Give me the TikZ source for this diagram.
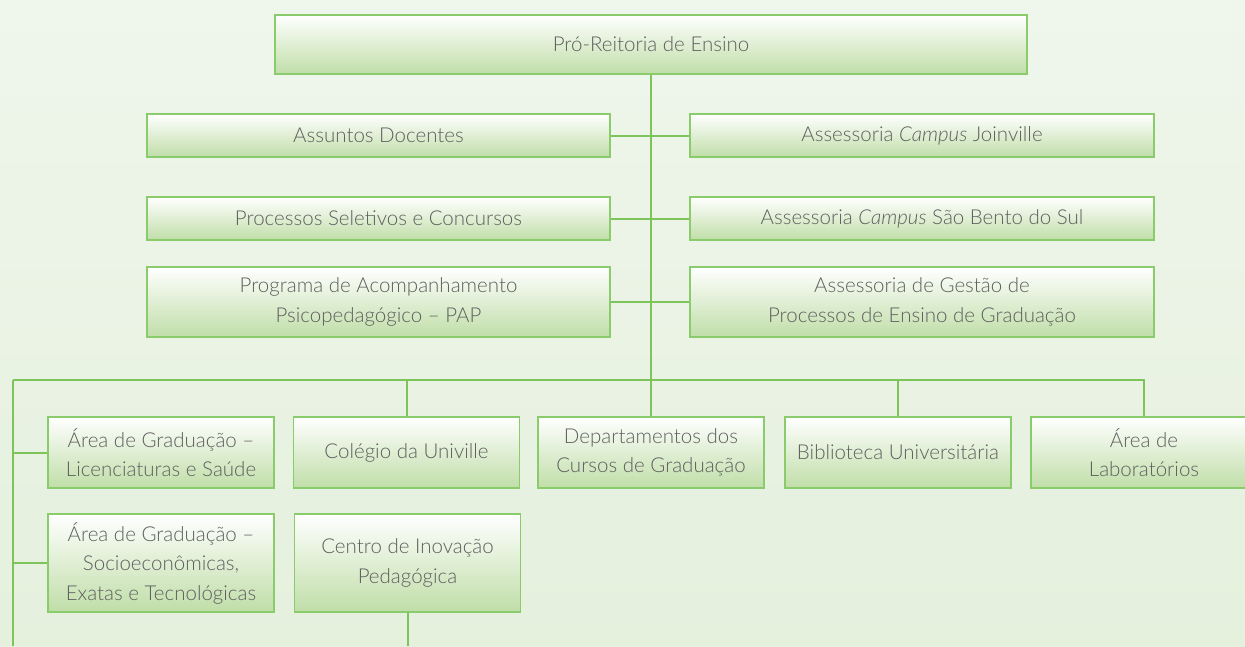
\documentclass[tikz,border=0pt]{standalone}
\usepackage{fontspec}
\IfFontExistsTF{Lato Light}{\setmainfont{Lato Light}[ItalicFont={Lato Light Italic}]}{\setmainfont{Lato}}
\definecolor{bgtop}{HTML}{EFF6EC}
\definecolor{bgbot}{HTML}{E5F0DD}
\definecolor{boxbot}{HTML}{C0DEA8}
\definecolor{boxline}{HTML}{8ACB6C}
\definecolor{linkc}{HTML}{7DC55B}
\definecolor{txt}{HTML}{5E5E5E}
\begin{document}
\begin{tikzpicture}[x=1pt,y=-1pt,font=\fontsize{20.5}{29.5}\selectfont,
 box/.style={draw=boxline,line width=1.4pt,top color=white,bottom color=boxbot,
   text=txt,align=center,inner sep=0pt,minimum width=#1},
 box/.default=226,
 link/.style={draw=linkc,line width=2pt}]
 \useasboundingbox (0,0) rectangle (1245,646);
 \clip (0,0) rectangle (1245,646);
 \fill[top color=bgtop,bottom color=bgbot] (0,0) rectangle (1245,646);
 % direcao
 \node[box=752,minimum height=59] (pre) at (651,44.5) {Pró-Reitoria de Ensino};
 % assessorias
 \node[box=463,minimum height=43] (a1) at (378.5,135.5) {Assuntos Docentes};
 \node[box=464,minimum height=43] (b1) at (922,135.5) {Assessoria \textit{Campus} Joinville};
 \node[box=463,minimum height=43] (a2) at (378.5,218.5) {Processos Seletivos e Concursos};
 \node[box=464,minimum height=43] (b2) at (922,218.5) {Assessoria \textit{Campus} São Bento do Sul};
 \node[box=463,minimum height=70] (a3) at (378.5,302) {Programa de Acompanhamento\\Psicopedagógico -- PAP};
 \node[box=464,minimum height=70] (b3) at (922,302) {Assessoria de Gestão de\\Processos de Ensino de Graduação};
 % areas
 \node[box,minimum height=71] (c1) at (161,452.5) {Área de Graduação --\\Licenciaturas e Saúde};
 \node[box,minimum height=71] (c2) at (406.5,452.5) {Colégio da Univille};
 \node[box,minimum height=71] (c3) at (651,452.5) {Departamentos dos\\Cursos de Graduação};
 \node[box,minimum height=71] (c4) at (898,452.5) {Biblioteca Universitária};
 \node[box,minimum height=71] (c5) at (1144,452.5) {Área de\\Laboratórios};
 \node[box,minimum height=98] (d1) at (161,563) {Área de Graduação --\\Socioeconômicas,\\Exatas e Tecnológicas};
 \node[box,minimum height=98] (d2) at (407.5,563) {Centro de Inovação\\Pedagógica};
 \coordinate (bar) at (651,380);
 \coordinate (barL) at (13,380);
 \coordinate (foot) at (13,646);
 % ligacoes
 \draw[link] (pre.south) -- (bar);
 \foreach \i in {1,2,3}
 \draw[link] (a\i.east) -- (b\i.west);
 \draw[link] (barL) -- (bar -| c5.north) -- (c5.north);
 \foreach \n in {c2,c3,c4}
 \draw[link] (\n.north) -- (\n.north |- bar);
 \draw[link] (barL) -- (foot);
 \foreach \n in {c1,d1}
 \draw[link] (\n.west -| barL) -- (\n.west);
 \draw[link] (d2.south) -- (d2.south |- foot);
\end{tikzpicture}
\end{document}
